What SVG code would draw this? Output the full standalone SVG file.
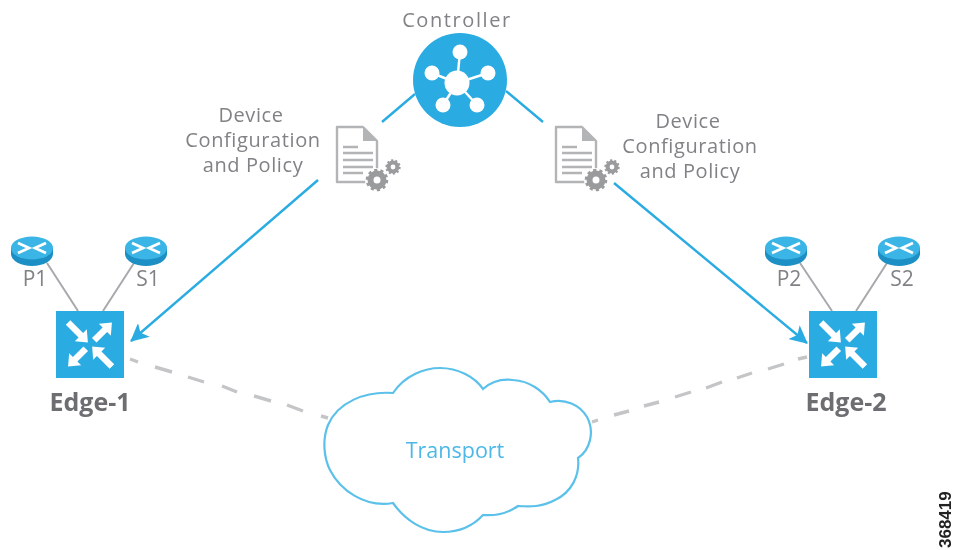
<svg xmlns="http://www.w3.org/2000/svg" xmlns:xlink="http://www.w3.org/1999/xlink" width="954" height="550" viewBox="0 0 954 550">
<style>
.lbl{font-family:"Open Sans","Liberation Sans",sans-serif;font-size:20px;letter-spacing:.6px;fill:#808285;text-anchor:middle}
.small{font-size:21px;letter-spacing:0}
.ctl{letter-spacing:1.600px}
.edge{font-family:"Open Sans","Liberation Sans",sans-serif;font-size:25px;font-weight:700;fill:#6d6e71;text-anchor:middle}
.blue{stroke:#29abe2;stroke-width:2.4;fill:none}
.gray{stroke:#a7a9ac;stroke-width:2;fill:none}
.dash{stroke:#c4c5c7;stroke-width:3.4;fill:none}
.docline{stroke:#b3b4b6;stroke-width:2.4}
.arw{fill:#fff}
</style>
<defs>
<filter id="soft" x="0" y="0" width="100%" height="100%" filterUnits="objectBoundingBox"><feGaussianBlur stdDeviation="0.45"/></filter>
<marker id="ah" viewBox="0 0 18 18" refX="17" refY="9" markerWidth="18" markerHeight="18" markerUnits="userSpaceOnUse" orient="auto"><path d="M0 0L18 9L0 18L4.500 9Z" fill="#29abe2"/></marker>
<g id="router">
<path d="M-21 0V6A21 12 0 0 0 21 6V0Z" fill="#1c8fc4"/>
<ellipse cx="0" cy="0" rx="21" ry="11.500" fill="#3bb4e6"/>
<path d="M-14-5L-3 0L-14 5M14-5L3 0L14 5" stroke="#fff" stroke-width="2.800" fill="none"/>
</g>
<path id="out" class="arw" d="M6-3.200H21V-8.500L31 0L21 8.500V3.200H6Z"/>
<path id="in" class="arw" d="M31-3.200H13V-8.500L3 0L13 8.500V3.200H31Z"/>
<g id="sw">
<rect x="-34" y="-33.500" width="68" height="67" fill="#29abe2"/>
<use xlink:href="#out" href="#out" transform="rotate(-45)"/>
<use xlink:href="#out" href="#out" transform="rotate(135)"/>
<use xlink:href="#in" href="#in" transform="rotate(-135)"/>
<use xlink:href="#in" href="#in" transform="rotate(45)"/>
</g>
<g id="gear">
<circle r="6.500" fill="none" stroke="#9a9b9d" stroke-width="6"/>
<circle r="10" fill="none" stroke="#9a9b9d" stroke-width="2.600" stroke-dasharray="3.200 3.080"/>
</g>
<g id="doc">
<path d="M1 1H27L41 15V56H1Z" fill="#fff" stroke="#b3b4b6" stroke-width="2.400" stroke-linejoin="round"/>
<path d="M27 1L41 15H27Z" fill="#b3b4b6"/>
<path class="docline" d="M7 21H22M7 27H37M7 34H37M7 41H37M7 47H27"/>
<circle cx="41" cy="54" r="12" fill="#fff"/>
<use xlink:href="#gear" href="#gear" transform="translate(41,54)"/>
<use xlink:href="#gear" href="#gear" transform="translate(57,41) scale(.68)"/>
</g>
</defs>
<g filter="url(#soft)">
<rect width="954" height="550" fill="#fff"/>
<g id="connectors">
<path class="blue" d="M415 94L382 122M506 91L543 122"/>
<path class="blue" d="M318 180L131 341" marker-end="url(#ah)"/>
<path class="blue" d="M614 183L807 343" marker-end="url(#ah)"/>
<path class="gray" d="M47 263L78 311M134 263L103 311M800 263L832 311M887 263L856 311"/>
<path class="dash" d="M130 359L138 362M155 367L172 372M188 377L204 382M222 386L237 392M254 396L271 401M287 405L303 411M321 416L328 418"/>
<path class="dash" d="M592 422L598 420M614 415L629 411M644 406L659 402M675 397L691 392M706 388L722 382M737 378L752 373M768 369L784 364M798 359L807 357"/>
</g>
<g id="controller">
<text class="lbl ctl" x="457" y="27">Controller</text>
<circle cx="460" cy="80" r="47" fill="#29abe2"/>
<path d="M457 83L460 52M457 83L432 73M457 83L488 73M457 83L443 105M457 83L477 105" stroke="#fff" stroke-width="2.500"/>
<g fill="#fff"><circle cx="457" cy="83" r="12.500"/><circle cx="460" cy="52" r="7.500"/><circle cx="432" cy="73" r="7.500"/><circle cx="488" cy="73" r="7.500"/><circle cx="443" cy="105" r="7.500"/><circle cx="477" cy="105" r="7.500"/></g>
</g>
<g id="config-left">
<use xlink:href="#doc" href="#doc" x="336" y="126"/>
<text class="lbl" x="251" y="122">Device</text><text class="lbl" x="253" y="147">Configuration</text><text class="lbl" x="253" y="172">and Policy</text>
</g>
<g id="config-right">
<use xlink:href="#doc" href="#doc" x="555" y="126"/>
<text class="lbl" x="688" y="128">Device</text><text class="lbl" x="690" y="153">Configuration</text><text class="lbl" x="690" y="178">and Policy</text>
</g>
<g id="p1"><use xlink:href="#router" href="#router" x="32" y="248"/><text class="lbl small" x="35" y="286">P1</text></g>
<g id="s1"><use xlink:href="#router" href="#router" x="146" y="248"/><text class="lbl small" x="148" y="286">S1</text></g>
<g id="p2"><use xlink:href="#router" href="#router" x="786" y="248"/><text class="lbl small" x="789" y="286">P2</text></g>
<g id="s2"><use xlink:href="#router" href="#router" x="899" y="248"/><text class="lbl small" x="902" y="286">S2</text></g>
<g id="edge-1"><use xlink:href="#sw" href="#sw" x="90" y="344.500"/><text class="edge" x="90" y="411">Edge-1</text></g>
<g id="edge-2"><use xlink:href="#sw" href="#sw" x="843" y="344.500"/><text class="edge" x="846" y="411">Edge-2</text></g>
<g id="transport">
<path d="M393 393C405 375 425 368 440 368C458 368 475 377 483 389C493 380 505 379 513 380C530 381 543 391 550 402C565 398 580 405 587 417C595 432 590 450 578 458C580 475 572 492 555 500C542 507 530 507 518 506C508 513 495 516 483 515C472 527 458 532 443 532C423 532 405 520 393 503C365 508 340 490 330 470C324 458 322 440 328 425C338 402 365 391 393 393Z" fill="#fff" stroke="#5cc1ea" stroke-width="2.200"/>
<text class="lbl" x="455" y="458" style="fill:#4db8e8;font-size:21.500px;letter-spacing:0">Transport</text>
</g>
<text id="fig" x="0" y="0" transform="translate(951,548) rotate(-90)" font-family="Liberation Sans,sans-serif" font-size="17" font-weight="700" fill="#222">368419</text>
</g>
</svg>
